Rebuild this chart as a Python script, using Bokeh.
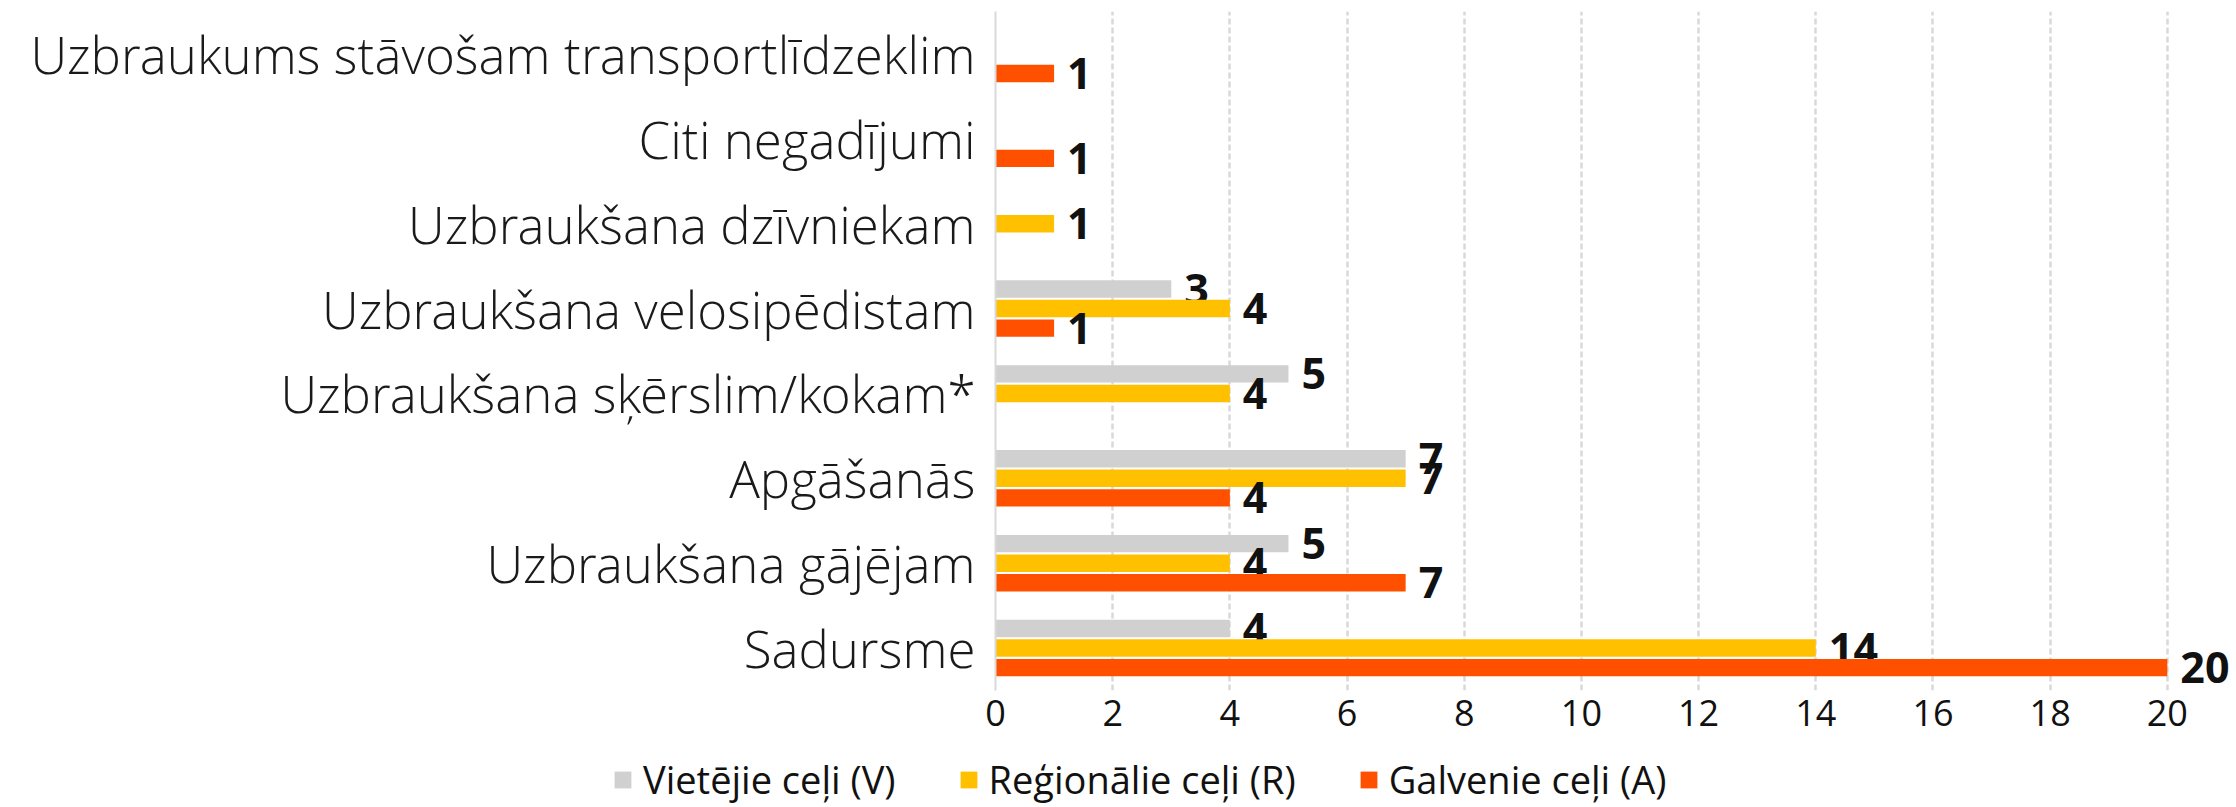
from bokeh.plotting import figure
from bokeh.models import (ColumnDataSource, Range1d, FactorRange, FixedTicker,
                          Legend, LegendItem)
from bokeh.transform import dodge
from bokeh.core.properties import value
from bokeh.embed import file_html
from bokeh.resources import INLINE

# ---- data (top to bottom as in the chart) ----
categories = [
    "Uzbraukums stāvošam transportlīdzeklim",
    "Citi negadījumi",
    "Uzbraukšana dzīvniekam",
    "Uzbraukšana velosipēdistam",
    "Uzbraukšana sķērslim/kokam*",
    "Apgāšanās",
    "Uzbraukšana gājējam",
    "Sadursme",
]
vietejie = [0, 0, 0, 3, 5, 7, 5, 4]      # Vietējie ceļi (V)
regionalie = [0, 0, 1, 4, 4, 7, 4, 14]   # Reģionālie ceļi (R)
galvenie = [1, 1, 0, 1, 0, 4, 7, 20]     # Galvenie ceļi (A)
series_names = ["Vietējie ceļi (V)", "Reģionālie ceļi (R)", "Galvenie ceļi (A)"]
x_ticks = [0, 2, 4, 6, 8, 10, 12, 14, 16, 18, 20]

colors = ["#d0d0d0", "#ffc000", "#ff5000"]
offsets = [0.23, 0.0, -0.23]

LABEL_FONT = "'Open Sans Light', 'Lato Light', 'Open Sans'"
MAIN_FONT = "Open Sans"

W = 2236
p = figure(
    width=W, height=745,
    x_range=Range1d(0, 21.18),
    y_range=FactorRange(*list(reversed(categories))),
    output_backend="svg", toolbar_location=None,
    min_border_left=995, min_border_right=0, min_border_top=11, min_border_bottom=55,
)
p.outline_line_color = None
p.background_fill_color = "white"

for vals, name, col, off in zip([vietejie, regionalie, galvenie], series_names, colors, offsets):
    cats = [c for c, v in zip(categories, vals) if v > 0]
    vv = [v for v in vals if v > 0]
    src = ColumnDataSource(dict(cat=cats, val=vv, lab=[str(v) for v in vv]))
    p.hbar(y=dodge("cat", off, range=p.y_range), right="val", left=0, height=0.205,
           source=src, fill_color=col, line_color=None)
    p.text(x="val", y=dodge("cat", off, range=p.y_range), text="lab", source=src,
           x_offset=13, text_align="left", text_baseline="middle",
           text_font=value(MAIN_FONT), text_font_style="bold",
           text_font_size="43px", text_color="#111111")

# x axis
p.xaxis.ticker = FixedTicker(ticks=x_ticks)
p.xaxis.axis_line_color = None
p.xaxis.major_tick_line_color = None
p.xaxis.minor_tick_line_color = None
p.xaxis.major_label_text_font = MAIN_FONT
p.xaxis.major_label_text_font_size = "36px"
p.xaxis.major_label_text_color = "#111111"
p.xaxis.major_label_standoff = 3

# y axis
p.yaxis.axis_line_color = "#d9d9d9"
p.yaxis.axis_line_width = 2
p.yaxis.major_tick_line_color = None
p.yaxis.minor_tick_line_color = None
p.yaxis.major_label_text_font = LABEL_FONT
p.yaxis.major_label_text_font_size = "51px"
p.yaxis.major_label_text_color = "#1a1a1a"
p.yaxis.major_label_standoff = 14

# grid
p.ygrid.grid_line_color = None
p.xgrid.grid_line_color = "#d9d9d9"
p.xgrid.grid_line_width = 2.5
p.xgrid.grid_line_dash = "6 3"
p.xgrid.ticker = FixedTicker(ticks=x_ticks[1:])

# ---- legend strip (separate root below the chart) ----
lg = figure(
    width=W, height=60, x_range=Range1d(0, 1), y_range=Range1d(0, 1),
    x_axis_location=None, y_axis_location=None,
    output_backend="svg", toolbar_location=None,
    min_border_left=0, min_border_right=0, min_border_top=0, min_border_bottom=0,
)
lg.outline_line_color = None
lg.xgrid.visible = False
lg.ygrid.visible = False
items = []
for name, col in zip(series_names, colors):
    # zero-width bar: only provides the legend swatch
    r = lg.hbar(y=[0.5], right=[0], left=0, height=0.5, fill_color=col, line_color=None)
    items.append(LegendItem(label=name, renderers=[r]))
legend = Legend(
    items=items, orientation="horizontal", location=(612, 0),
    label_text_font=MAIN_FONT, label_text_font_size="38px", label_text_color="#111111",
    glyph_width=21, glyph_height=21, label_standoff=10, spacing=62,
    padding=0, margin=0, border_line_color=None, background_fill_alpha=0,
)
lg.add_layout(legend, "center")

open("out.html", "w").write(file_html([p, lg], INLINE))
